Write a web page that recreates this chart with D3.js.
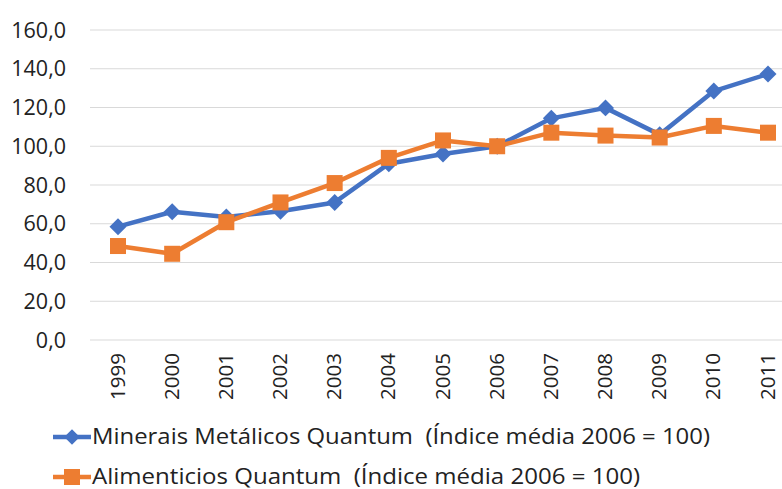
<!DOCTYPE html>
<html><head><meta charset="utf-8">
<script src="https://cdn.jsdelivr.net/npm/d3@7"></script>
<style>body{margin:0;background:#fff}svg{display:block}</style>
</head><body>
<script>
const years = ["1999","2000","2001","2002","2003","2004","2005","2006","2007","2008","2009","2010","2011"];
const minerais = [58.5,66.2,63.5,66.5,71.0,91.0,96.0,100.0,114.4,119.8,106.0,128.5,137.3];
const alimenticios = [48.5,44.5,60.8,71.0,81.0,94.0,103.0,100.0,107.0,105.5,104.5,110.5,107.0];
const yTicks = [0,20,40,60,80,100,120,140,160];
const seriesNames = ["Minerais Metálicos Quantum  (Índice média 2006 = 100)","Alimenticios Quantum  (Índice média 2006 = 100)"];
const colors = ["#4472C4","#ED7D31"];

const W=782,H=489;
const svg=d3.select("body").append("svg").attr("width",W).attr("height",H);
const font="'Open Sans', sans-serif";
const x=d3.scalePoint().domain(years).range([118,768]);
const y=d3.scaleLinear().domain([0,160]).range([340,30]);

// gridlines
svg.append("g").selectAll("line").data(yTicks).join("line")
  .attr("x1",90).attr("x2",W).attr("y1",d=>y(d)).attr("y2",d=>y(d))
  .attr("stroke","#d9d9d9").attr("stroke-width",1.2);

// y labels
svg.append("g").selectAll("text").data(yTicks).join("text")
  .attr("x",66).attr("y",d=>y(d)).attr("dy","0.36em").attr("text-anchor","end")
  .attr("font-family",font).attr("font-size",21.5).attr("fill","#222")
  .text(d=>d.toFixed(1).replace(".",","));

// x labels
svg.append("g").selectAll("text").data(years).join("text")
  .attr("transform",d=>`translate(${x(d)+6.5},353) rotate(-90)`)
  .attr("text-anchor","end")
  .attr("font-family",font).attr("font-size",20.5).attr("fill","#222")
  .text(d=>d);

const line=d3.line().x((d,i)=>x(years[i])).y(d=>y(d));
const data=[minerais,alimenticios];
data.forEach((vals,k)=>{
  svg.append("path").datum(vals).attr("d",line).attr("fill","none")
    .attr("stroke",colors[k]).attr("stroke-width",4.5).attr("stroke-linejoin","round");
});
// markers
svg.append("g").selectAll("path").data(minerais).join("path")
  .attr("transform",(d,i)=>`translate(${x(years[i])},${y(d)}) rotate(45)`)
  .attr("d","M-6,-6H6V6H-6Z").attr("fill",colors[0]);
svg.append("g").selectAll("rect").data(alimenticios).join("rect")
  .attr("x",(d,i)=>x(years[i])-8).attr("y",d=>y(d)-8).attr("width",16).attr("height",16)
  .attr("fill",colors[1]);

// legend
const ly=[437,477];
seriesNames.forEach((n,k)=>{
  const g=svg.append("g");
  g.append("line").attr("x1",53).attr("x2",91).attr("y1",ly[k]).attr("y2",ly[k])
    .attr("stroke",colors[k]).attr("stroke-width",4.5);
  if(k===0) g.append("path").attr("transform",`translate(72,${ly[k]}) rotate(45)`).attr("d","M-5.5,-5.5H5.5V5.5H-5.5Z").attr("fill",colors[0]);
  else g.append("rect").attr("x",64).attr("y",ly[k]-8).attr("width",16).attr("height",16).attr("fill",colors[1]);
  g.append("text").attr("x",92).attr("y",ly[k]).attr("dy","0.35em")
    .attr("font-family",font).attr("font-size",21).attr("fill","#222")
    .style("white-space","pre")
    .attr("textLength",k===0?618:548).attr("lengthAdjust","spacingAndGlyphs")
    .text(n);
});
</script>
</body></html>
